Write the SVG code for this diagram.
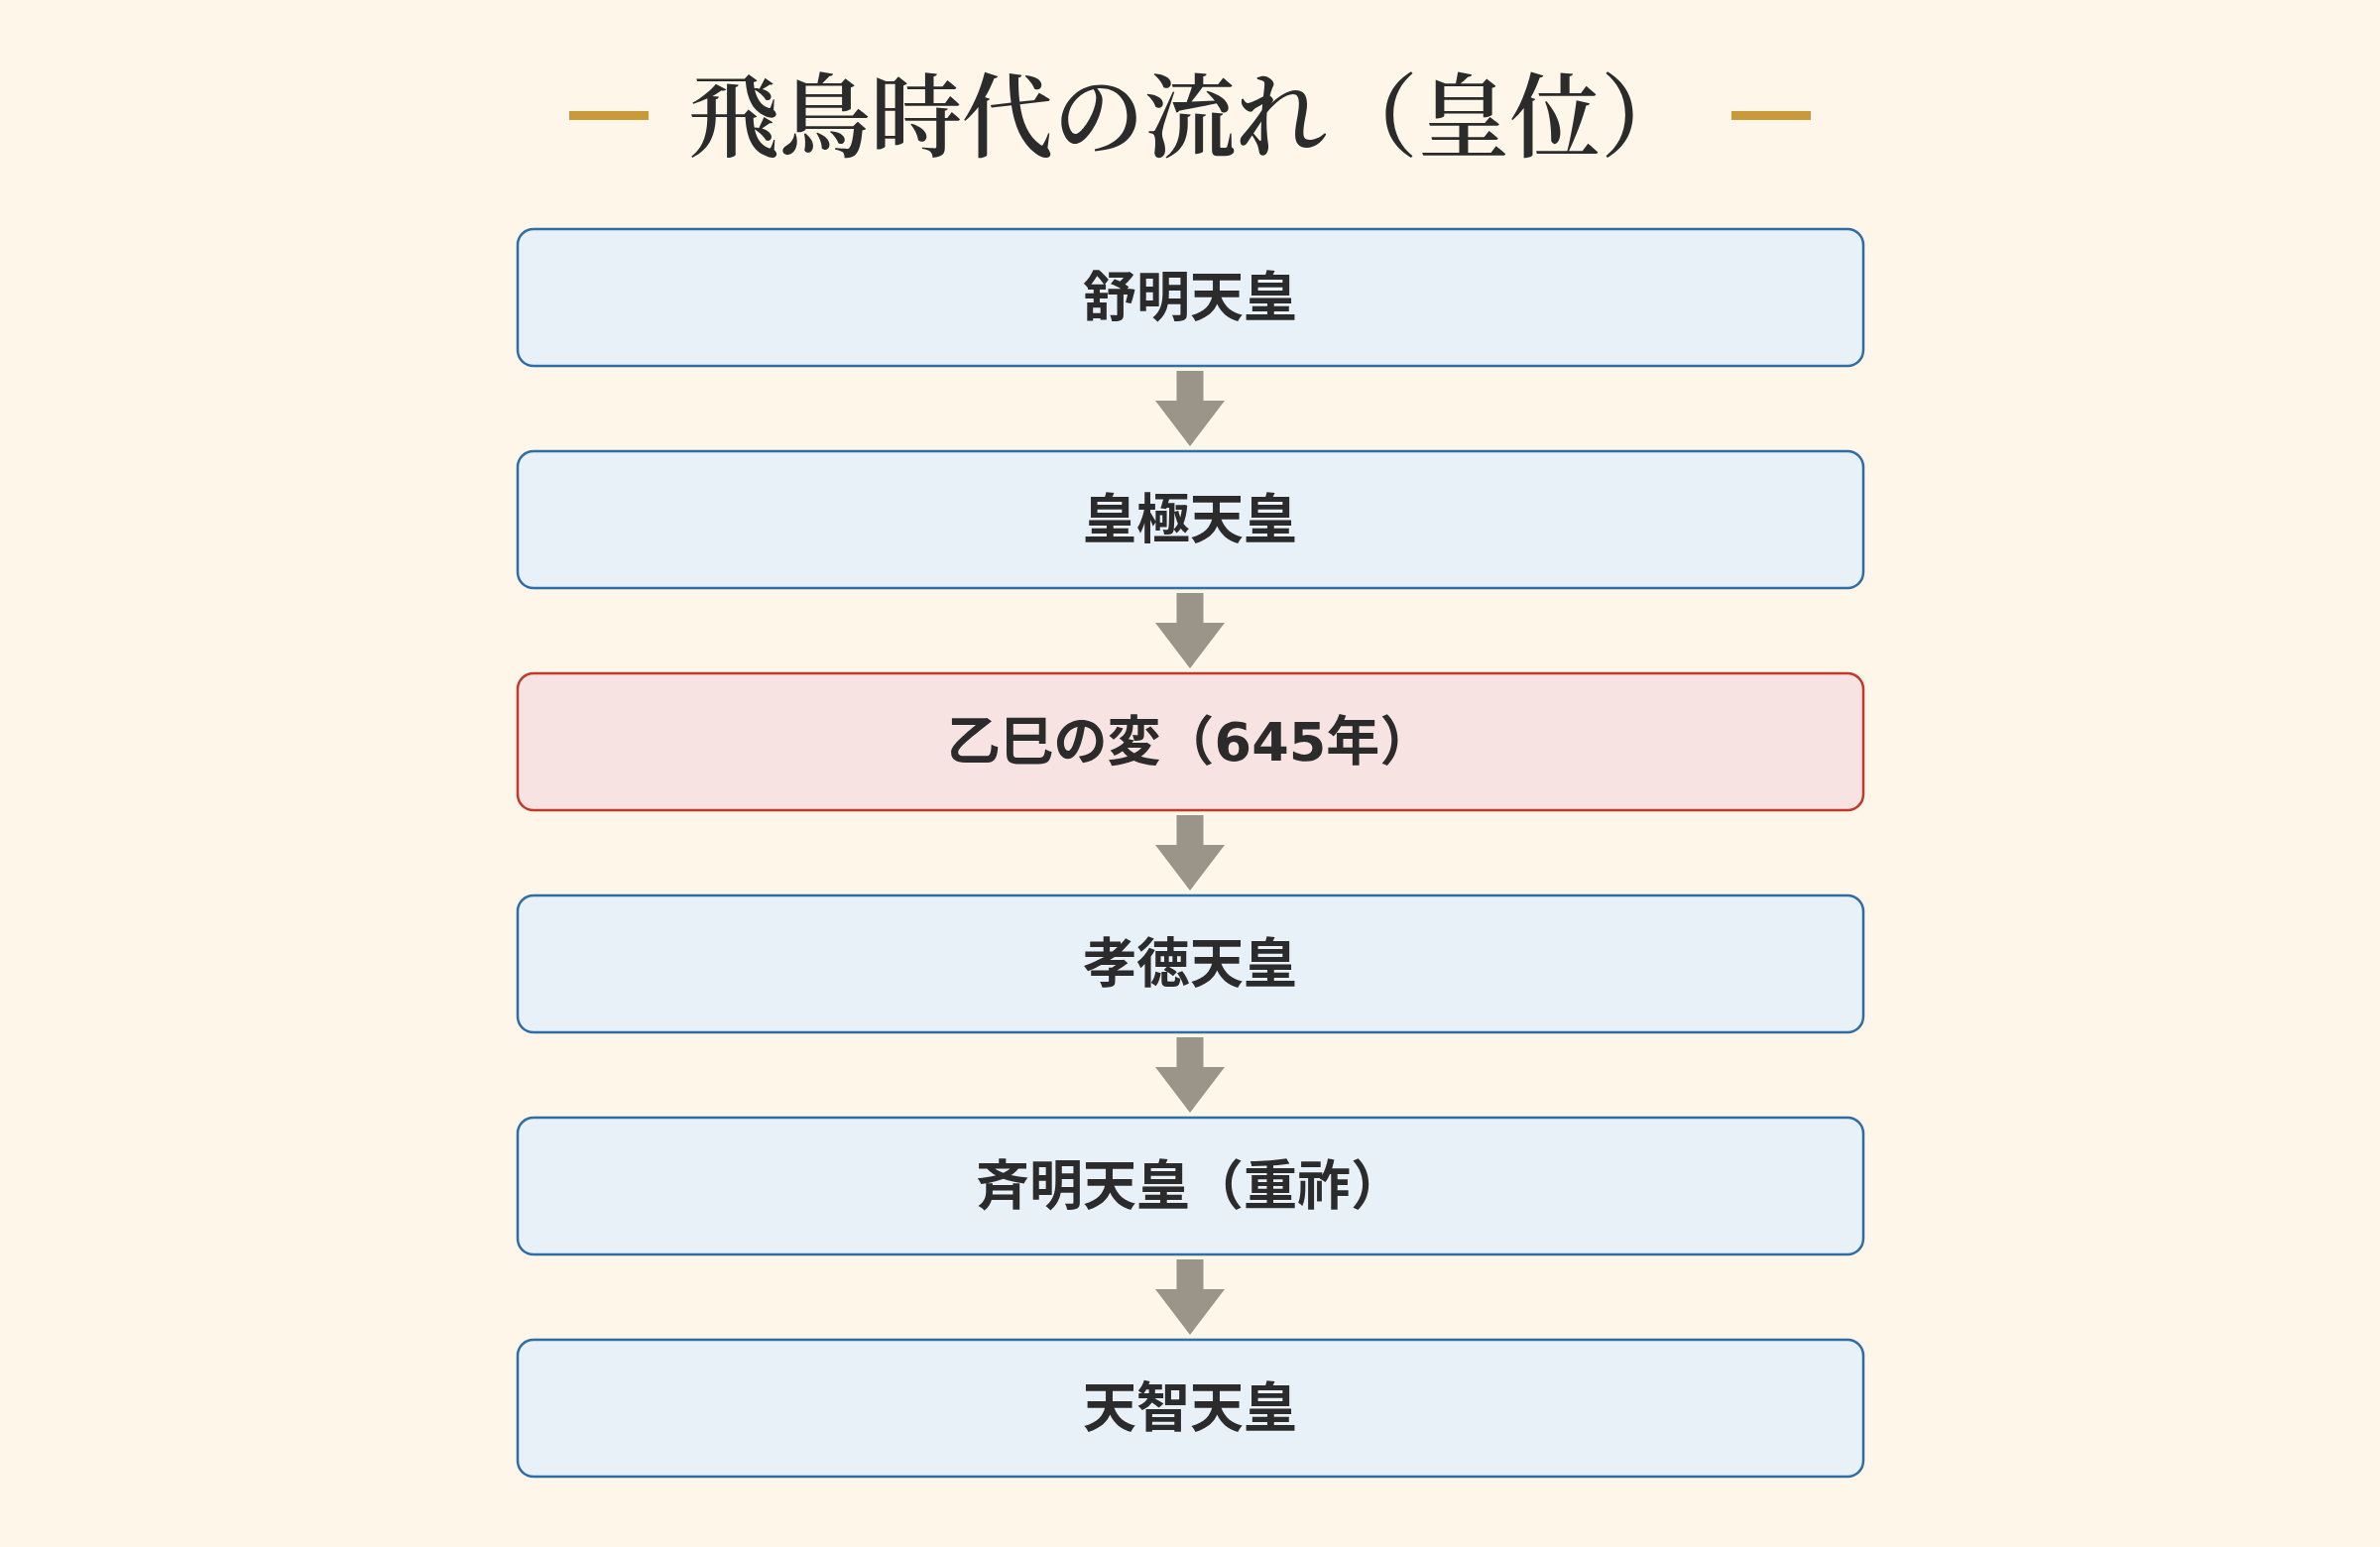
<svg xmlns="http://www.w3.org/2000/svg" width="2400" height="1560" viewBox="0 0 2400 1560">
<style>
.bg{fill:#FDF6E9}
.title{font-family:"Noto Serif CJK JP","Noto Sans CJK JP",serif;font-size:92px;font-weight:600;fill:#2B2B2B;text-anchor:middle}
.dash{fill:#C99A3A}
.box{fill:#E8F0F8;stroke:#2F6EA5;stroke-width:2.5}
.box.hl{fill:#F7E3E1;stroke:#C0392B}
.lbl{font-family:"DejaVu Sans","Noto Sans CJK JP",sans-serif;font-weight:bold;font-size:54px;fill:#2B2B2B;text-anchor:middle}
.arrow{fill:#9B9488}
</style>
<defs>
<path id="arr" d="M-13.5,5 H13.5 V35 H35 L0,81 L-35,35 H-13.5 Z"/>
</defs>
<rect class="bg" x="0" y="0" width="2400" height="1560"/>
<g id="title">
<rect class="dash" x="574" y="112" width="80" height="9"/>
<rect class="dash" x="1746" y="112" width="80" height="9"/>
<text class="title" x="1200" y="151">飛鳥時代の流れ（皇位）</text>
</g>
<g id="connectors" class="arrow">
<use href="#arr" x="1200" y="369"/>
<use href="#arr" x="1200" y="593"/>
<use href="#arr" x="1200" y="817"/>
<use href="#arr" x="1200" y="1041"/>
<use href="#arr" x="1200" y="1265"/>
</g>
<g id="n1"><rect class="box" x="522" y="231" width="1357" height="138" rx="16"/><text class="lbl" x="1200" y="319">舒明天皇</text></g>
<g id="n2"><rect class="box" x="522" y="455" width="1357" height="138" rx="16"/><text class="lbl" x="1200" y="543">皇極天皇</text></g>
<g id="n3"><rect class="box hl" x="522" y="679" width="1357" height="138" rx="16"/><text class="lbl" x="1200" y="767">乙巳の変（645年）</text></g>
<g id="n4"><rect class="box" x="522" y="903" width="1357" height="138" rx="16"/><text class="lbl" x="1200" y="991">孝徳天皇</text></g>
<g id="n5"><rect class="box" x="522" y="1127" width="1357" height="138" rx="16"/><text class="lbl" x="1200" y="1215">斉明天皇（重祚）</text></g>
<g id="n6"><rect class="box" x="522" y="1351" width="1357" height="138" rx="16"/><text class="lbl" x="1200" y="1439">天智天皇</text></g>
</svg>
